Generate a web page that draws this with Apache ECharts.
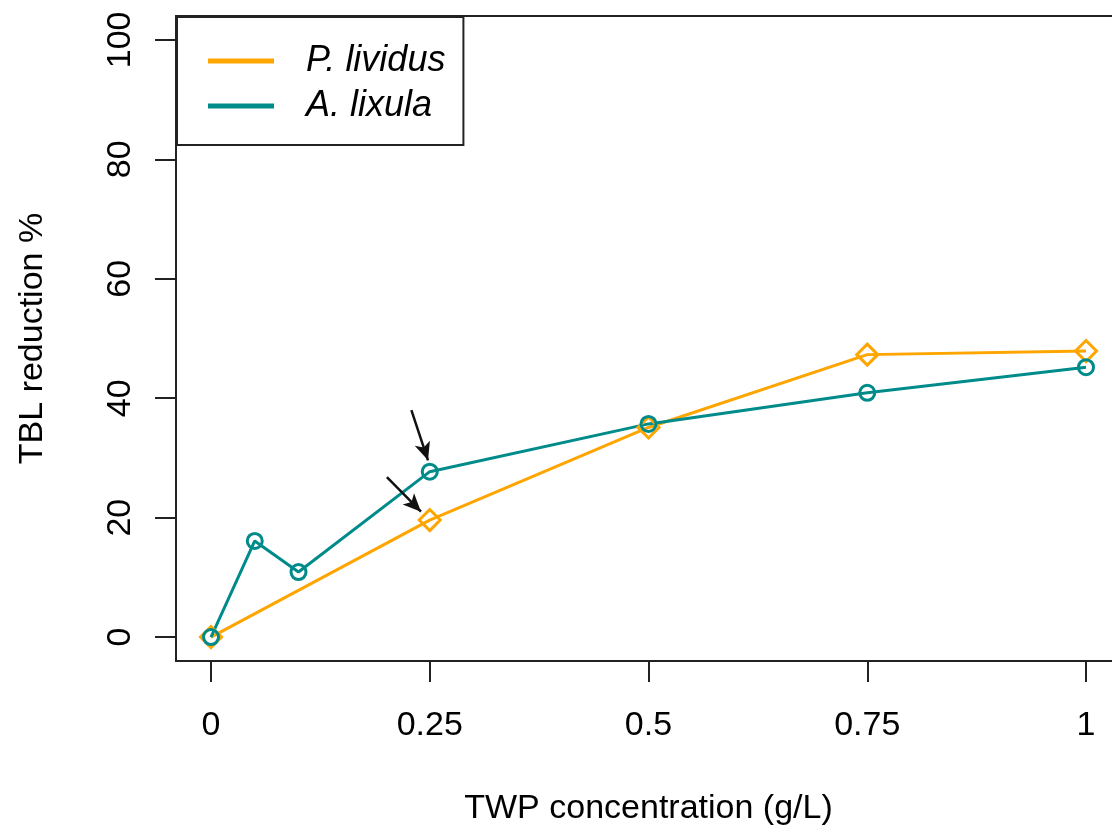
<!DOCTYPE html>
<html>
<head>
<meta charset="utf-8">
<script src="https://cdn.jsdelivr.net/npm/echarts@6/dist/echarts.min.js"></script>
<style>
  html, body { margin: 0; padding: 0; background: #fff; }
  #app { width: 1112px; height: 832px; }
</style>
</head>
<body>
<div id="app"></div>
<script>
// values
const xTicks = [0, 0.25, 0.5, 0.75, 1]
const yTicks = [0, 20, 40, 60, 80, 100]

const livX = [0, 0.25, 0.5, 0.75, 1]
const livY = [0, 19.6, 35.1, 47.3, 47.9]

const lixX = [0, 0.05, 0.1, 0.25, 0.5, 0.75, 1]
const lixY = [0, 16.1, 10.9, 27.7, 35.7, 40.9, 45.2]

// two arrows pointing at the 0.25 points (data coords)
const arrowFrom = [[0.229, 38.0], [0.201, 26.8]]
const arrowTo = [[0.248, 29.6], [0.240, 21.0]]

const orange = '#FFA500'
const teal = '#008B8B'
const font = 'Liberation Sans, Arial, sans-serif'

const pairs = (xs, ys) => xs.map((x, i) => [x, ys[i]])

const chart = echarts.init(document.getElementById('app'))

chart.setOption({
    animation: false,
    grid: {
        show: true, left: 176, top: 16, width: 945, height: 645,
        outerBoundsMode: 'none', containLabel: false,
        borderColor: '#222', borderWidth: 2, backgroundColor: 'transparent'
    },
    legend: {
        left: 177, top: 17, orient: 'vertical',
        icon: 'rect', itemWidth: 64, itemHeight: 3, itemGap: 9,
        padding: [26, 18, 21, 31],
        borderColor: '#222', borderWidth: 2,
        textStyle: {
            fontFamily: font, fontSize: 36, fontStyle: 'italic', color: '#000',
            lineHeight: 34, padding: [0, 0, 0, 28]
        },
        data: [
            { name: 'P. lividus', itemStyle: { color: orange } },
            { name: 'A. lixula', itemStyle: { color: teal } }
        ]
    },
    xAxis: {
        type: 'value', min: -0.04, max: 1.04,
        name: 'TWP concentration (g/L)', nameLocation: 'middle', nameGap: 131,
        nameTextStyle: { fontFamily: font, fontSize: 34, color: '#000' },
        axisLine: { show: false, onZero: false },
        splitLine: { show: false },
        axisTick: { show: true, customValues: xTicks, length: 21, lineStyle: { color: '#222', width: 2 } },
        axisLabel: {
            customValues: xTicks, margin: 48, fontFamily: font, fontSize: 34, color: '#000',
            formatter: v => String(v)
        }
    },
    yAxis: {
        type: 'value', min: -4, max: 104,
        name: 'TBL reduction %', nameLocation: 'middle', nameGap: 126, nameRotate: 90,
        nameTextStyle: { fontFamily: font, fontSize: 34, color: '#000' },
        axisLine: { show: false, onZero: false },
        splitLine: { show: false },
        axisTick: { show: true, customValues: yTicks, length: 21, lineStyle: { color: '#222', width: 2 } },
        axisLabel: {
            customValues: yTicks, rotate: 90, margin: 38, fontFamily: font, fontSize: 34, color: '#000'
        }
    },
    series: [
        {
            name: 'P. lividus', type: 'line', data: pairs(livX, livY),
            symbol: 'diamond', symbolSize: 21,
            lineStyle: { color: orange, width: 3 },
            itemStyle: { color: 'rgba(0,0,0,0)', borderColor: orange, borderWidth: 3 },
            emphasis: { disabled: true }
        },
        {
            name: 'A. lixula', type: 'line', data: pairs(lixX, lixY),
            symbol: 'circle', symbolSize: 15,
            lineStyle: { color: teal, width: 3 },
            itemStyle: { color: 'rgba(0,0,0,0)', borderColor: teal, borderWidth: 3 },
            emphasis: { disabled: true },
            markLine: {
                silent: true,
                symbol: ['none', 'arrow'], symbolSize: [12, 18],
                label: { show: false },
                lineStyle: { color: '#111', width: 2.5, type: 'solid' },
                emphasis: { disabled: true },
                data: arrowFrom.map((p, i) => [{ coord: p }, { coord: arrowTo[i] }])
            }
        }
    ]
})
</script>
</body>
</html>
